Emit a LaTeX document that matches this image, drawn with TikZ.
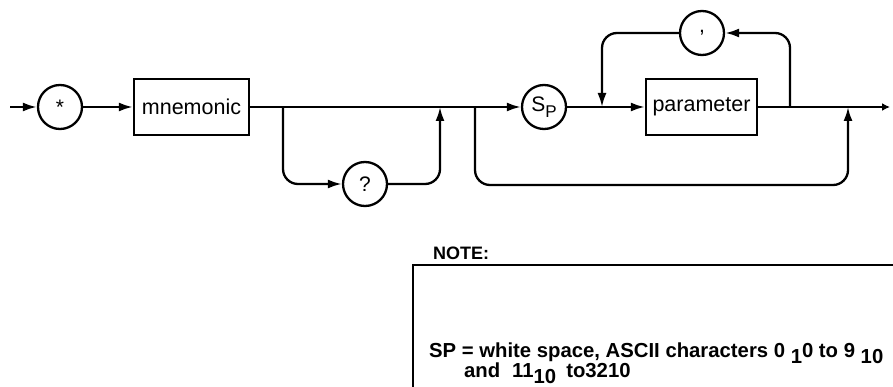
\documentclass[tikz,border=0pt]{standalone}
\usepackage{fontspec}
\setmainfont{Liberation Sans}
\usetikzlibrary{arrows.meta}
\begin{document}
\begin{tikzpicture}[x=1pt,y=-1pt,
  line width=2.3pt,
  arr/.style={-{Latex[length=14pt,width=9pt]}},
  endarr/.style={-{Latex[length=8pt,width=8pt]}},
  term/.style={circle,draw,minimum size=44pt,inner sep=0pt,font=\fontsize{21}{24}\selectfont},
  nterm/.style={rectangle,draw,minimum width=115pt,minimum height=56pt,inner sep=0pt,font=\fontsize{21.5}{24}\selectfont},
  rc/.style={rounded corners=15pt},
  notetext/.style={anchor=base west,inner sep=0pt,font=\bfseries\fontsize{20.3}{22}\selectfont}]
\useasboundingbox (0,0) rectangle (893,387);

\node[term] (star) at (60,107) {\raisebox{-4pt}{*}};
\node[nterm] (mn) at (191.5,107) {mnemonic};
\node[term] (q) at (365,184) {?};
\node[term] (sp) at (544,107) {S\raisebox{-6pt}{\fontsize{17}{17}\selectfont P}};
\node[nterm, minimum width=111pt] (param) at (701.5,107) {parameter};
\node[term] (comma) at (702,33) {,};

\coordinate (start) at (10,107);
\coordinate (j1) at (283,107);
\coordinate (j2) at (440,107);
\coordinate (j3) at (475,107);
\coordinate (l1) at (602,107);
\coordinate (l2) at (790,107);
\coordinate (j4) at (848,107);
\coordinate (end) at (890,107);

\draw[arr] (start) -- (star);
\draw[arr] (star) -- (mn);
\draw[arr] (mn) -- (sp);
\draw[arr,rc] (j1) |- (q);
\draw[arr,rc] (q) -| (j2);
\draw[arr,rc] (j3) -- ++(0,78) -| (j4);
\draw[arr] (sp) -- (param);
\draw[arr,rc] (l2) |- (comma);
\draw[arr,rc] (comma) -| (l1);
\draw[endarr] (param) -- (end);

\node[anchor=base west,inner sep=0pt,font=\bfseries\fontsize{18}{20}\selectfont] (notelabel) at (432,259) {NOTE:};
\draw[line width=2.6pt] (413,387) -- (413,265) -- (893,265);
\node[notetext] (line1) at (428,357) {SP = white space, ASCII characters 0 \raisebox{-6pt}{1}0 to 9 \raisebox{-6pt}{10}};
\node[notetext] (line2) at (463,377) {and\hspace{12pt}11\raisebox{-6pt}{10}\hspace{10pt}to3210};
\end{tikzpicture}
\end{document}
